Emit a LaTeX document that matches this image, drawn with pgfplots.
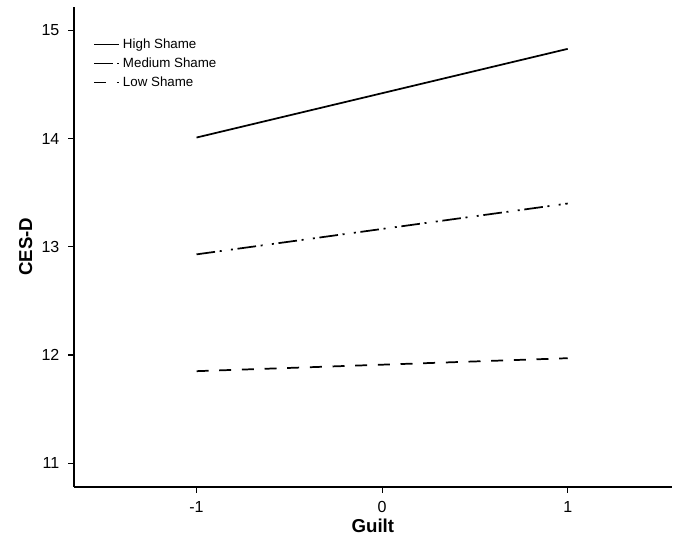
\documentclass[border=0pt]{standalone}
\usepackage{fontspec}
\setmainfont{Liberation Sans}
\usepackage{pgfplots}
\pgfplotsset{compat=1.18}
\begin{document}
\begin{tikzpicture}
\begin{axis}[
  scale only axis,
  width=448pt, height=360pt,
  xmin=-1.66, xmax=1.56,
  ymin=10.78, ymax=15.22,
  axis lines*=left,
  axis line style={line width=1pt},
  xtick={-1,0,1}, ytick={11,12,13,14,15},
  tick align=outside,
  major tick length=4.5pt,
  tick style={line width=0.9pt, black},
  /pgf/number format/assume math mode=true,
  ticklabel style={font=\fontsize{12}{14}\selectfont},
  xticklabel style={yshift=-3pt},
  yticklabel style={xshift=-3pt},
  xlabel={\textbf{Guilt}}, ylabel={\textbf{CES-D}},
  label style={font=\fontsize{14}{16}\selectfont},
  xlabel style={yshift=2pt},
  ylabel style={yshift=0pt},
  legend style={draw=none, fill=none, at={(0.025,0.945)}, anchor=north west,
    font=\fontsize{10}{12}\selectfont, row sep=1.5pt},
  legend cell align=left,
  legend image code/.code={\draw[#1] (0pt,0pt) -- (19pt,0pt);},
]
\addplot[black, line width=1.3pt] coordinates {(-1,14.01) (1,14.83)};
\addlegendentry{High Shame}
\addplot[black, line width=1.3pt, dash pattern=on 14pt off 3.5pt on 1.5pt off 7pt on 1.5pt off 3.5pt] coordinates {(-1,12.93) (1,13.40)};
\addlegendentry{Medium Shame}
\addplot[black, line width=1.3pt, dash pattern=on 9pt off 8pt] coordinates {(-1,11.85) (1,11.97)};
\addlegendentry{Low Shame}
\end{axis}
\pgfresetboundingbox
\path (current axis.south west) ++(-55.5pt,-42pt) coordinate (a);
\path (current axis.north east) ++(7pt,5pt) coordinate (b);
\useasboundingbox (a) rectangle (b);
\end{tikzpicture}
\end{document}
